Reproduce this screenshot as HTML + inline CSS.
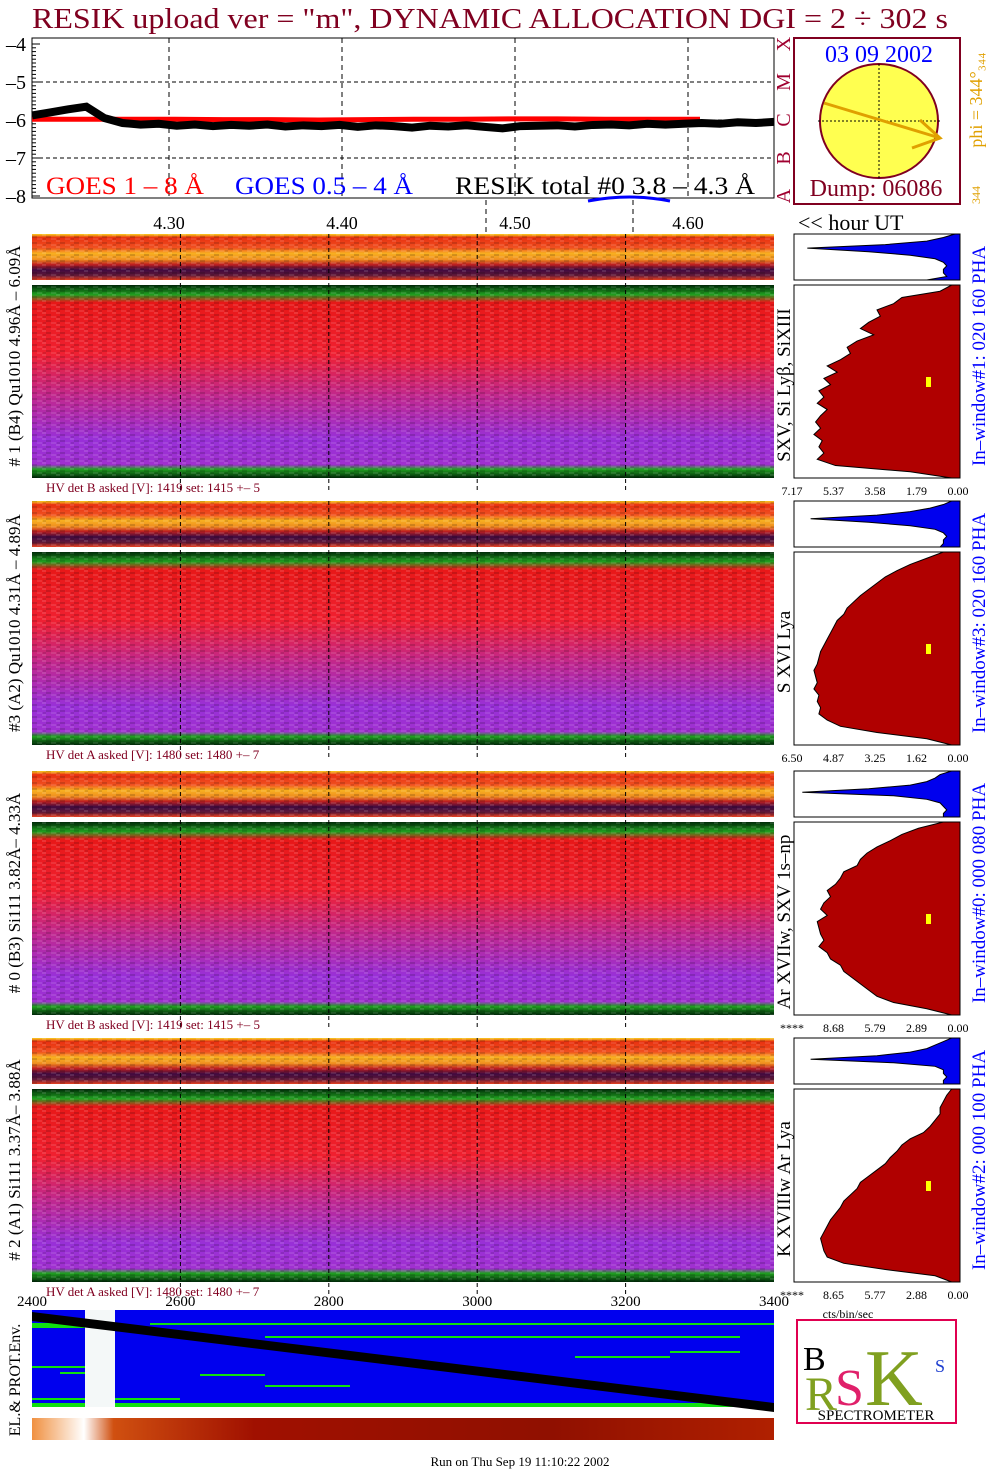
<!DOCTYPE html>
<html><head><meta charset="utf-8">
<style>
body{margin:0;background:#fff;width:1004px;height:1476px;overflow:hidden;font-family:"Liberation Serif",serif;}
svg{position:absolute;left:0;top:0}
</style></head>
<body>
<svg id="s" width="1004" height="1476">
<defs>
<linearGradient id="strip" x1="0" y1="0" x2="0" y2="1">
<stop offset="0" stop-color="#f8d020"/><stop offset="0.08" stop-color="#e83010"/><stop offset="0.3" stop-color="#f05020"/>
<stop offset="0.42" stop-color="#f8b020"/><stop offset="0.55" stop-color="#f09020"/><stop offset="0.66" stop-color="#c02020"/>
<stop offset="0.78" stop-color="#400a40"/><stop offset="0.9" stop-color="#601838"/><stop offset="1" stop-color="#e84020"/>
</linearGradient>
<linearGradient id="main" x1="0" y1="0" x2="0" y2="1">
<stop offset="0" stop-color="#002a08"/><stop offset="0.05" stop-color="#20a020"/><stop offset="0.09" stop-color="#e81818"/>
<stop offset="0.35" stop-color="#f02030"/><stop offset="0.58" stop-color="#c02890"/><stop offset="0.8" stop-color="#9830d8"/>
<stop offset="0.93" stop-color="#a030d0"/><stop offset="0.955" stop-color="#20a020"/><stop offset="1" stop-color="#002808"/>
</linearGradient>
<pattern id="tex" width="14" height="6" patternUnits="userSpaceOnUse">
<rect width="4" height="2" fill="#fff" opacity="0.12"/><rect x="4" y="2" width="5" height="2" fill="#000" opacity="0.15"/>
<rect x="9" y="4" width="5" height="2" fill="#fff" opacity="0.1"/><rect x="1" y="4" width="3" height="2" fill="#000" opacity="0.1"/>
</pattern>
<linearGradient id="bar" x1="0" y1="0" x2="1" y2="0">
<stop offset="0" stop-color="#f09040"/><stop offset="0.07" stop-color="#fff"/><stop offset="0.11" stop-color="#d05010"/>
<stop offset="0.3" stop-color="#a01000"/><stop offset="0.7" stop-color="#901000"/><stop offset="1" stop-color="#b02000"/>
</linearGradient>
</defs>
<text x="32" y="28" font-size="28" fill="#800020" textLength="916" lengthAdjust="spacingAndGlyphs">RESIK upload ver = "m", DYNAMIC ALLOCATION  DGI =   2 ÷ 302 s</text>
<g id="top"></g><g id="panels"></g><g id="hists"></g><g id="bottom"></g>
</svg>
<script>
const NS="http://www.w3.org/2000/svg";
function mk(p,t,a,txt){const e=document.createElementNS(NS,t);for(const k in a)e.setAttribute(k,a[k]);if(txt!=null)e.textContent=txt;p.appendChild(e);return e;}

// ---- data ----
const yTicks=[-4,-5,-6,-7,-8];
const hourTicks=[4.30,4.40,4.50,4.60];
const resikVals=[-5.88,-5.8,-5.72,-5.65,-5.95,-6.08,-6.12,-6.1,-6.15,-6.12,-6.16,-6.13,-6.15,-6.12,-6.17,-6.14,-6.16,-6.13,-6.18,-6.14,-6.16,-6.2,-6.15,-6.17,-6.14,-6.18,-6.22,-6.16,-6.15,-6.14,-6.17,-6.13,-6.12,-6.14,-6.1,-6.12,-6.1,-6.08,-6.1,-6.06,-6.08,-6.05];
const goesVals=[-5.98,-5.98,-5.98,-5.98,-5.99,-5.99,-6.0,-5.99,-5.98,-5.98,-5.97,-5.97,-5.98,-5.98,-5.98];
const binTicks=[2400,2600,2800,3000,3200,3400];
const panelLabels=["# 1 (B4) Qu1010 4.96Å – 6.09Å","#3 (A2) Qu1010  4.31Å – 4.89Å","# 0 (B3) Si111  3.82Å– 4.33Å","# 2 (A1) Si111  3.37Å– 3.88Å"];
const lineLabels=["SXV, Si Lyβ, SiXIII","S XVI Lya","Ar XVIIw, SXV 1s–np","K XVIIIw  Ar Lya"];
const hvLabels=["HV det B asked [V]:  1419 set:  1415 +–    5","HV det A asked [V]:  1480 set:  1480 +–    7","HV det B asked [V]:  1419 set:  1415 +–    5","HV det A asked [V]:  1480 set:  1480 +–    7"];
const winLabels=["In–window#1:  020 160 PHA","In–window#3:  020 160 PHA","In–window#0:  000 080 PHA","In–window#2:  000 100 PHA"];
const histTicks=[["7.17","5.37","3.58","1.79","0.00"],["6.50","4.87","3.25","1.62","0.00"],["****","8.68","5.79","2.89","0.00"],["****","8.65","5.77","2.88","0.00"]];
const histMain=[
[0.05,0.12,0.35,0.4,0.5,0.48,0.55,0.6,0.52,0.62,0.68,0.66,0.72,0.8,0.74,0.82,0.78,0.85,0.82,0.86,0.8,0.84,0.87,0.84,0.88,0.83,0.85,0.82,0.86,0.75,0.3,0.05],
[0.1,0.2,0.3,0.38,0.45,0.5,0.55,0.6,0.64,0.68,0.7,0.74,0.76,0.78,0.8,0.82,0.84,0.85,0.86,0.88,0.87,0.86,0.88,0.85,0.86,0.84,0.85,0.8,0.72,0.5,0.2,0.05],
[0.1,0.25,0.35,0.42,0.5,0.56,0.6,0.62,0.7,0.72,0.75,0.8,0.78,0.82,0.84,0.8,0.86,0.85,0.84,0.82,0.85,0.8,0.78,0.72,0.7,0.65,0.6,0.55,0.5,0.4,0.2,0.05],
[0.05,0.08,0.1,0.12,0.12,0.15,0.18,0.22,0.3,0.35,0.38,0.42,0.45,0.5,0.55,0.6,0.62,0.66,0.7,0.72,0.75,0.78,0.8,0.82,0.84,0.83,0.82,0.8,0.7,0.45,0.15,0.05]];
const histTop=[
[0.03,0.1,0.2,0.45,0.92,0.55,0.3,0.15,0.1,0.08,0.1,0.1,0.08,0.2],
[0.05,0.1,0.18,0.3,0.5,0.9,0.55,0.3,0.15,0.1,0.08,0.1,0.1,0.12],
[0.05,0.12,0.15,0.2,0.3,0.55,0.95,0.4,0.2,0.12,0.1,0.08,0.1,0.1],
[0.05,0.1,0.15,0.2,0.3,0.5,0.9,0.4,0.15,0.1,0.1,0.08,0.1,0.1]];

// ---- scales ----
const PX0=32,PX1=774;
const yv=v=>44+(-4-v)*38;
const xb=b=>PX0+(b-2400)*(PX1-PX0)/1000;
const xh=h=>169+(h-4.30)*(688-169)/0.30;

// ---- top plot ----
const T=document.getElementById('top');
mk(T,'rect',{x:32,y:38,width:742,height:160,fill:'none',stroke:'#000',});
yTicks.forEach(v=>{const y=yv(v);
 const t=mk(T,'text',{x:26,y:y+7,'font-size':20,'text-anchor':'end'},'–'+(-v));
 if(v>-8&&v<-4){const l=mk(T,'line',{x1:32,x2:774,y1:y,y2:y,stroke:'#000','stroke-dasharray':'4,3'});}
 for(let i=0;i<10;i++){const yy=y+i*3.8; if(yy<198) mk(T,'line',{x1:32,x2:i?36:40,y1:yy,y2:yy,stroke:'#000'});}
});
hourTicks.forEach((h,i)=>{const x=xh(h);
 const l=mk(T,'line',{x1:x,x2:x,y1:38,y2:198,stroke:'#000','stroke-dasharray':'5,4'});
 const t=mk(T,'text',{x:x,y:229,'font-size':18,'text-anchor':'middle'},h.toFixed(2));});
[486,633].forEach(x=>mk(T,'line',{x1:x,x2:x,y1:200,y2:232,stroke:'#000','stroke-dasharray':'5,4'}));
let gp=goesVals.map((v,i)=>[PX0+i*(700-PX0)/(goesVals.length-1),yv(v)]);
const g=mk(T,'polyline',{points:gp.join(' '),fill:'none',stroke:'#f00','stroke-width':5});
let rp=resikVals.map((v,i)=>[PX0+i*(PX1-PX0)/(resikVals.length-1),yv(v)]);
const r=mk(T,'polyline',{points:rp.join(' '),fill:'none',stroke:'#000','stroke-width':8});
[['GOES 1 – 8 Å','#f00',46,158,'legend-goes-1-8'],['GOES 0.5 – 4 Å','#00f',235,178,'legend-goes-05-4'],['RESIK total #0  3.8 – 4.3 Å','#000',455,300,'legend-resik-total']].forEach(a=>{const t=mk(T,'text',{x:a[2],y:194,'font-size':25,fill:a[1],textLength:a[3],lengthAdjust:'spacingAndGlyphs'},a[0]);});
mk(T,'path',{d:'M588 201 Q630 193 670 201',stroke:'#00f','stroke-width':3,fill:'none'});
['A','B','C','M','X'].forEach((c,i)=>{const y=yv(-8+i);const t=mk(T,'text',{x:790,y:y,'font-size':20,fill:'#a00030',transform:`rotate(-90 790 ${y})`,'text-anchor':'middle'},c);});
mk(T,'rect',{x:794,y:38,width:166,height:166,fill:'none',stroke:'#800020','stroke-width':2,});
mk(T,'ellipse',{cx:879,cy:121,rx:59,ry:57,fill:'#ffff50',stroke:'#800020','stroke-width':2,});
mk(T,'line',{x1:818,x2:940,y1:121,y2:121,stroke:'#000','stroke-dasharray':'2,2'});
mk(T,'line',{x1:879,x2:879,y1:64,y2:178,stroke:'#000','stroke-dasharray':'2,2'});
mk(T,'path',{d:'M824 103 L940 138 M920 120 L940 138 L912 148',stroke:'#e0a000','stroke-width':3,fill:'none',});
mk(T,'text',{x:879,y:62,'font-size':24,fill:'#00f','text-anchor':'middle',},'03 09 2002');
mk(T,'text',{x:876,y:196,'font-size':24,fill:'#800020','text-anchor':'middle',},'Dump: 06086');
mk(T,'text',{x:982,y:100,'font-size':18,fill:'#e0a000','text-anchor':'middle',transform:'rotate(-90 982 100)',},'phi = 344°₃₄₄');
mk(T,'text',{x:980,y:195,'font-size':12,fill:'#e0a000','text-anchor':'middle',transform:'rotate(-90 980 195)'},'344');
mk(T,'text',{x:798,y:230,'font-size':22,},'<< hour UT');

// ---- panels ----
const P=document.getElementById('panels'), H=document.getElementById('hists');
const tops=[234,501,771,1038];
tops.forEach((y0,k)=>{
 const sy=y0, my=y0+51, mh=193;
 const a=mk(P,'rect',{x:PX0,y:sy,width:742,height:46,fill:'url(#strip)'});
 mk(P,'rect',{x:PX0,y:sy,width:742,height:46,fill:'url(#tex)'});
 const b=mk(P,'rect',{x:PX0,y:my,width:742,height:mh,fill:'url(#main)'});
 mk(P,'rect',{x:PX0,y:my,width:742,height:mh,fill:'url(#tex)'});
 binTicks.slice(1,5).forEach(v=>{const l=mk(P,'line',{x1:xb(v),x2:xb(v),y1:sy,y2:my+mh+12,stroke:'#000','stroke-dasharray':'4,3'});});
 const t=mk(P,'text',{x:46,y:my+mh+14,'font-size':13,fill:'#800020'},hvLabels[k]);
 const cy=sy+122;
 const l=mk(P,'text',{x:20,y:cy,'font-size':17,'text-anchor':'middle',transform:`rotate(-90 20 ${cy})`},panelLabels[k]);
 const ly=my+100;
 const ll=mk(P,'text',{x:790,y:ly,'font-size':19,'text-anchor':'middle',transform:`rotate(-90 790 ${ly})`},lineLabels[k]);
 const wl=mk(P,'text',{x:985,y:sy+122,'font-size':19,fill:'#00f','text-anchor':'middle',transform:`rotate(-90 985 ${sy+122})`},winLabels[k]);
 const HX0=794,HX1=960,HW=HX1-HX0;
 mk(H,'rect',{x:HX0,y:sy,width:HW,height:46,fill:'#fff',stroke:'#000'});
 let pts=[[HX1,sy]];histTop[k].forEach((v,i)=>{pts.push([HX1-v*HW,sy+i*46/(histTop[k].length-1)]);});pts.push([HX1,sy+46]);
 const hp=mk(H,'polygon',{points:pts.join(' '),fill:'#0000ee',stroke:'#000'});
 mk(H,'rect',{x:HX0,y:my,width:HW,height:mh,fill:'#fff',stroke:'#000'});
 pts=[[HX1,my]];histMain[k].forEach((v,i)=>{pts.push([HX1-v*HW,my+i*mh/(histMain[k].length-1)]);});pts.push([HX1,my+mh]);
 const hm=mk(H,'polygon',{points:pts.join(' '),fill:'#b00000',stroke:'#000'});
 mk(H,'rect',{x:926,y:my+92,width:5,height:10,fill:'#ff0'});
 histTicks[k].forEach((s,i)=>{const x=HX0-2+i*HW/4;const tt=mk(H,'text',{x:x,y:my+mh+17,'font-size':12,'text-anchor':'middle'},s);});
});
mk(H,'text',{x:848,y:1318,'font-size':12,'text-anchor':'middle',},'cts/bin/sec');

// ---- bottom ----
const B=document.getElementById('bottom');
binTicks.forEach(v=>{const t=mk(B,'text',{x:xb(v),y:1306,'font-size':15,'text-anchor':'middle'},v);});
mk(B,'rect',{x:PX0,y:1310,width:742,height:96,fill:'#0000ee',});
[[32,1323,85,5],[150,1323,774,2],[265,1336,740,2],[32,1366,85,2],[60,1372,85,2],[32,1398,180,2],[200,1374,265,2],[265,1385,350,2],[575,1356,670,2],[670,1351,740,2],[32,1403,774,4]].forEach(a=>mk(B,'rect',{x:a[0],y:a[1],width:a[2]-a[0],height:a[3],fill:'#10e010'}));
mk(B,'rect',{x:85,y:1310,width:30,height:97,fill:'#f4f8f8'});
mk(B,'polygon',{points:'32,1312 32,1321 774,1412 774,1403',fill:'#000',});
mk(B,'rect',{x:PX0,y:1418,width:742,height:22,fill:'url(#bar)',});
mk(B,'text',{x:20,y:1380,'font-size':16,'text-anchor':'middle',transform:'rotate(-90 20 1380)',},'EL.& PROT.Env.');
mk(B,'rect',{x:797,y:1320,width:159,height:103,fill:'#fff',stroke:'#e00050','stroke-width':2,});
mk(B,'text',{x:803,y:1370,'font-size':34,fill:'#000'},'B');
mk(B,'text',{x:805,y:1410,'font-size':48,fill:'#80a020'},'R');
mk(B,'text',{x:835,y:1405,'font-size':52,fill:'#e0206a'},'S');
mk(B,'text',{x:865,y:1405,'font-size':80,fill:'#80a020'},'K');
mk(B,'text',{x:935,y:1372,'font-size':18,fill:'#2040d0'},'S');
mk(B,'text',{x:876,y:1420,'font-size':15,'text-anchor':'middle'},'SPECTROMETER');
mk(B,'text',{x:520,y:1466,'font-size':13,'text-anchor':'middle',},'Run on Thu Sep 19 11:10:22 2002');
</script>
</body></html>
